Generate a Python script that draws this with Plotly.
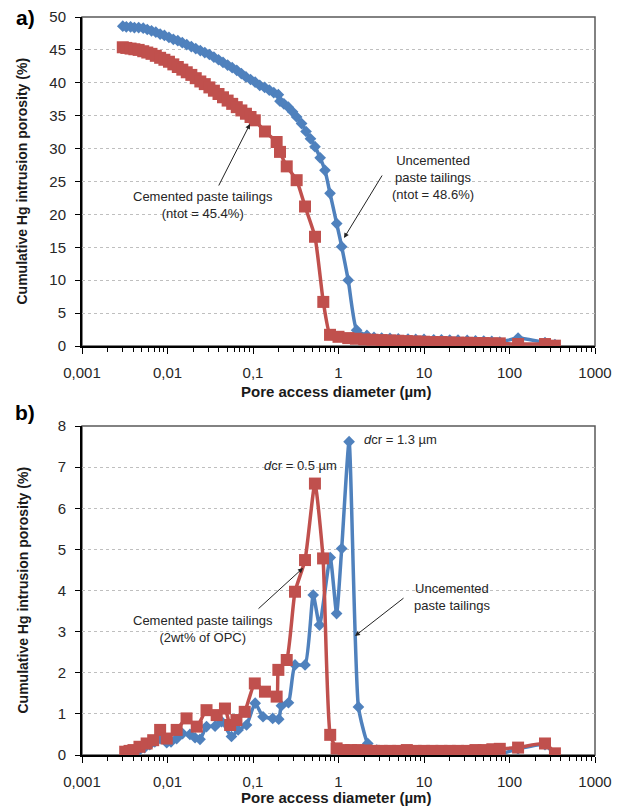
import plotly.graph_objects as go

# ---------------- data ----------------
# Panel a) cumulative porosity (%)
a_unc_x = [0.0030, 0.0033, 0.0037, 0.0041, 0.0046, 0.0052, 0.0058, 0.0065, 0.0073, 0.0082,
           0.0092, 0.0104, 0.0117, 0.0132, 0.0149, 0.0168, 0.019, 0.0214, 0.0242, 0.0273,
           0.0309, 0.0349, 0.0395, 0.0446, 0.0505, 0.0571, 0.0646, 0.0731, 0.0827, 0.0936,
           0.106, 0.12, 0.137, 0.155, 0.175, 0.198, 0.207, 0.23, 0.259, 0.29,
           0.324, 0.37, 0.417, 0.47, 0.531, 0.61, 0.695, 0.796, 0.953, 1.09,
           1.30, 1.63, 2.15, 2.6, 3.2, 4.0, 5.0, 6.5, 8.0, 10,
           13, 16, 20, 25, 32, 40, 50, 62, 77, 126, 260, 340]
a_unc_y = [48.6, 48.5, 48.5, 48.4, 48.4, 48.3, 48.1, 47.9, 47.7, 47.4,
           47.2, 46.9, 46.6, 46.4, 46.1, 45.8, 45.5, 45.2, 44.9, 44.6,
           44.3, 43.9, 43.5, 43.1, 42.7, 42.3, 41.9, 41.4, 40.9, 40.5,
           40.1, 39.6, 39.3, 38.9, 38.5, 38.2, 37.2, 36.8, 36.3, 35.6,
           34.8, 33.8, 32.6, 31.5, 30.3, 28.6, 26.7, 23.2, 18.6, 15.1,
           10.0, 2.4, 1.6, 1.3, 1.2, 1.15, 1.1, 1.05, 1.0, 1.0,
           0.95, 0.95, 0.9, 0.9, 0.85, 0.8, 0.75, 0.7, 0.6, 1.2, 0.5, 0.2]

a_cem_x = [0.0030, 0.0033, 0.0037, 0.0041, 0.0046, 0.0052, 0.0058, 0.0065, 0.0073, 0.0082,
           0.0092, 0.0104, 0.0117, 0.0132, 0.0149, 0.0168, 0.019, 0.0214, 0.0242, 0.0273,
           0.0309, 0.0349, 0.0395, 0.0446, 0.0505, 0.0571, 0.0646, 0.0731, 0.0827, 0.0936,
           0.105, 0.138, 0.189, 0.207, 0.248, 0.324, 0.406, 0.531, 0.664, 0.796,
           1.0, 1.3, 1.6, 2.0, 2.5, 3.2, 4.0, 5.0, 6.3, 8.0,
           10, 12.5, 16, 20, 25, 32, 40, 50, 63, 77, 126, 260, 340]
a_cem_y = [45.4, 45.3, 45.2, 45.1, 45.0, 44.8, 44.6, 44.4, 44.1, 43.8,
           43.5, 43.2, 42.8, 42.4, 42.0, 41.6, 41.2, 40.7, 40.2, 39.8,
           39.3, 38.8, 38.3, 37.8, 37.3, 36.8, 36.3, 35.8, 35.3, 34.8,
           34.3, 32.6, 31.0, 29.5, 27.3, 25.2, 21.2, 16.6, 6.7, 1.7,
           1.4, 1.2, 1.1, 1.0, 0.95, 0.9, 0.85, 0.8, 0.75, 0.7,
           0.65, 0.6, 0.6, 0.55, 0.5, 0.5, 0.45, 0.45, 0.4, 0.4, 0.3, 0.3, 0.05]

# Panel b) incremental porosity (%)
b_unc_x = [0.0032, 0.0036, 0.0041, 0.0047, 0.0054, 0.0062, 0.0071, 0.0082, 0.0089, 0.0098,
           0.011, 0.0128, 0.015, 0.0183, 0.021, 0.024, 0.0286, 0.036, 0.043, 0.056,
           0.067, 0.084, 0.106, 0.131, 0.17, 0.2, 0.215, 0.26, 0.31, 0.406,
           0.506, 0.6, 0.8, 0.95, 1.09, 1.33, 1.71, 2.2, 2.8, 3.5,
           4.5, 6, 8, 10, 13, 17, 22, 30, 40, 55, 77, 126, 260, 340]
b_unc_y = [0.0, 0.03, 0.07, 0.12, 0.18, 0.25, 0.32, 0.40, 0.45, 0.30,
           0.32, 0.40, 0.52, 0.50, 0.42, 0.38, 0.69, 0.70, 0.81, 0.45,
           0.61, 0.73, 1.26, 0.93, 0.89, 0.87, 1.2, 1.27, 2.19, 2.19,
           3.89, 3.16, 4.8, 3.44, 5.02, 7.62, 1.17, 0.28, 0.12, 0.08,
           0.06, 0.05, 0.05, 0.05, 0.05, 0.05, 0.05, 0.05, 0.04, 0.03, 0.02, 0.15, 0.25, 0.0]

b_cem_x = [0.0032, 0.0036, 0.004, 0.0047, 0.0057, 0.0068, 0.0082, 0.0098, 0.0128, 0.0167,
           0.022, 0.0286, 0.0376, 0.047, 0.054, 0.064, 0.08, 0.105, 0.138, 0.189,
           0.198, 0.248, 0.31, 0.406, 0.53, 0.66, 0.8, 0.95, 1.15, 1.4,
           1.7, 2.1, 2.6, 3.2, 4.0, 5.0, 6.3, 8.0, 10, 12.5,
           16, 20, 25, 32, 40, 50, 63, 77, 126, 260, 340]
b_cem_y = [0.08, 0.10, 0.12, 0.20, 0.28, 0.36, 0.61, 0.40, 0.61, 0.89,
           0.69, 1.09, 0.97, 1.13, 0.73, 0.85, 1.05, 1.74, 1.54, 1.42,
           2.07, 2.31, 3.97, 4.74, 6.6, 4.78, 0.49, 0.16, 0.12, 0.12,
           0.12, 0.11, 0.10, 0.10, 0.10, 0.10, 0.12, 0.10, 0.10, 0.10,
           0.10, 0.10, 0.10, 0.10, 0.12, 0.12, 0.14, 0.15, 0.18, 0.28, 0.04]

x_tickvals = [0.001, 0.01, 0.1, 1, 10, 100, 1000]
x_ticktext = ["0,001", "0,01", "0,1", "1", "10", "100", "1000"]
a_yticks = [0, 5, 10, 15, 20, 25, 30, 35, 40, 45, 50]
b_yticks = [0, 1, 2, 3, 4, 5, 6, 7, 8]

BLUE = "#4F81BD"
RED = "#C0504D"
FONT = "Liberation Sans, Arial, sans-serif"
TXT = "#262626"

W, H = 627, 809


def px(x):
    return x / W


def py(y):
    return 1 - y / H


fig = go.Figure()

for xs, ys, col, sym, sz, xa, ya in [
    (a_unc_x, a_unc_y, BLUE, "diamond", 9, "x", "y"),
    (a_cem_x, a_cem_y, RED, "square", 12, "x", "y"),
    (b_unc_x, b_unc_y, BLUE, "diamond", 9, "x2", "y2"),
    (b_cem_x, b_cem_y, RED, "square", 12, "x2", "y2"),
]:
    fig.add_trace(go.Scatter(
        x=xs, y=ys, mode="lines+markers", xaxis=xa, yaxis=ya,
        line=dict(color=col, width=3.5, shape="spline", smoothing=0.5),
        marker=dict(symbol=sym, size=sz, color=col, line=dict(width=0)),
        showlegend=False, hoverinfo="skip"))

xdom = [px(82), px(595)]
ydom_a = [py(346), py(17)]
ydom_b = [py(755), py(426)]

xcommon = dict(
    type="log", range=[-3, 3], tickmode="array", tickvals=x_tickvals, ticktext=x_ticktext,
    ticks="outside", ticklen=6, tickwidth=1, tickcolor="black", automargin=False,
    showline=True, linecolor="black", linewidth=2, showgrid=False, zeroline=False,
    tickfont=dict(family=FONT, size=15, color=TXT), ticklabelstandoff=6,
    minor=dict(ticks="outside", ticklen=4, tickwidth=1, tickcolor="black", dtick="D1", showgrid=False),
    domain=xdom,
)
ycommon = dict(
    tickmode="array", ticks="outside", ticklen=5, tickwidth=1, tickcolor="black",
    showline=True, linecolor="black", linewidth=2, showgrid=True, automargin=False,
    gridcolor="#BFBFBF", griddash="dot", gridwidth=1, zeroline=False,
    tickfont=dict(family=FONT, size=15, color=TXT), ticklabelstandoff=6,
)

fig.update_layout(
    width=W, height=H, margin=dict(l=0, r=0, t=0, b=0, autoexpand=False),
    paper_bgcolor="white", plot_bgcolor="white",
    xaxis=dict(**xcommon, anchor="y"),
    xaxis2=dict(**xcommon, anchor="y2"),
    yaxis=dict(**ycommon, range=[0, 50], tickvals=a_yticks, domain=ydom_a, anchor="x"),
    yaxis2=dict(**ycommon, range=[0, 8], tickvals=b_yticks, domain=ydom_b, anchor="x2"),
)

# top/right frame lines
for xr, yr in [("x domain", "y domain"), ("x2 domain", "y2 domain")]:
    fig.add_shape(type="rect", xref=xr, yref=yr, x0=0, x1=1, y0=0, y1=1,
                  line=dict(color="#595959", width=1.5), layer="below")

ann = []
C = dict(xref="paper", yref="paper", xanchor="center", yanchor="middle", showarrow=False)
bold = dict(family=FONT, size=15, color="#1a1a1a")
# axis titles
for yc, xt in [((17 + 346) / 2, 392), ((426 + 755) / 2, 797)]:
    ann.append(dict(text="<b>Cumulative Hg intrusion porosity (%)</b>", x=px(22), y=py(yc),
                    textangle=-90, font=dict(family=FONT, size=14, color="#1a1a1a"), **C))
    ann.append(dict(text="<b>Pore access diameter (µm)</b>", x=px(336), y=py(xt), font=bold, **C))
# panel labels
ann.append(dict(text="<b>a)</b>", x=px(25), y=py(18), font=dict(family=FONT, size=21, color="black"), **C))
ann.append(dict(text="<b>b)</b>", x=px(25), y=py(413), font=dict(family=FONT, size=21, color="black"), **C))

lab = dict(family=FONT, size=13, color=TXT)
ann += [
    dict(text="Cemented paste tailings<br>(ntot = 45.4%)", x=px(203), y=py(205), font=lab, **C),
    dict(text="Uncemented<br>paste tailings<br>(ntot = 48.6%)", x=px(433), y=py(177), font=lab, **C),
    dict(text="Cemented paste tailings<br>(2wt% of OPC)", x=px(203), y=py(629), font=lab, **C),
    dict(text="Uncemented<br>paste tailings", x=px(452), y=py(597), font=lab, **C),
    dict(text="<i>d</i>cr = 0.5 µm", x=px(300), y=py(466), font=lab, **C),
    dict(text="<i>d</i>cr = 1.3 µm", x=px(400), y=py(439), font=lab, **C),
]
# arrows (head, tail) in pixels
for (hx, hy), (tx, ty) in [((250, 124), (218, 187)), ((344, 238), (383, 174)),
                           ((303, 568), (257, 610)), ((355, 636), (405, 597))]:
    ann.append(dict(text="", x=px(hx), y=py(hy), xref="paper", yref="paper",
                    ax=tx - hx, ay=ty - hy, showarrow=True, arrowhead=2, arrowsize=1,
                    arrowwidth=1, arrowcolor="#222"))

fig.update_layout(annotations=ann)
fig.write_html("out.html")
